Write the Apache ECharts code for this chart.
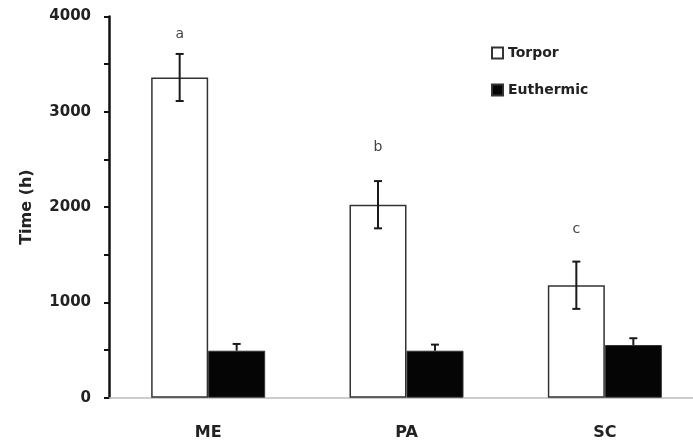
<!DOCTYPE html>
<html>
<head>
<meta charset="utf-8">
<script src="https://cdn.jsdelivr.net/npm/echarts@6/dist/echarts.min.js"></script>
<style>
  html, body { margin: 0; padding: 0; background: #fff; overflow: hidden; }
  /* 原图右侧被裁掉一截，画布略宽于窗口 */
  #chart { width: 704px; height: 442px; }
</style>
</head>
<body>
<div id="chart"></div>
<script>
// 数据
const sites = ['ME', 'PA', 'SC'];
const torporMean = [3360, 2025, 1180];
const torporErr = [247, 248, 248];
const euthermicMean = [493, 493, 553];
const euthermicErr = [71, 64, 71];
const sigLetters = ['a', 'b', 'c'];
const sigLetterY = [3815, 2630, 1770];

const FONT = 'DejaVu Sans';
const BAR_W = 57;

// 误差线（custom series）
function errorSeries(means, errs, offset, showLower) {
    return {
        type: 'custom',
        z: 10,
        silent: true,
        data: means.map((m, i) => [i, m, errs[i]]),
        renderItem: function (params, api) {
            const i = api.value(0);
            const m = api.value(1);
            const e = api.value(2);
            const top = api.coord([i, m + e]);
            const bot = api.coord([i, showLower ? m - e : m]);
            const x = top[0] + offset;
            const cap = 4;
            const style = { stroke: '#1a1a1a', lineWidth: 2 };
            const children = [
                { type: 'line', shape: { x1: x, y1: top[1], x2: x, y2: bot[1] }, style: style },
                { type: 'line', shape: { x1: x - cap, y1: top[1], x2: x + cap, y2: top[1] }, style: style }
            ];
            if (showLower) {
                children.push({ type: 'line', shape: { x1: x - cap, y1: bot[1], x2: x + cap, y2: bot[1] }, style: style });
            }
            return { type: 'group', children: children };
        }
    };
}

const chart = echarts.init(document.getElementById('chart'));
chart.setOption({
    animation: false,
    backgroundColor: '#fff',
    textStyle: { fontFamily: FONT },
    grid: { left: 109, top: 16.5, bottom: 44.3, right: 0, containLabel: false },
    legend: {
        orient: 'vertical',
        left: 486,
        top: 41,
        itemWidth: 11,
        itemHeight: 11,
        itemGap: 23,
        icon: 'rect',
        textStyle: { fontFamily: FONT, fontWeight: 'bold', fontSize: 14, color: '#222' },
        data: ['Torpor', 'Euthermic']
    },
    xAxis: {
        type: 'category',
        data: sites,
        axisLine: { lineStyle: { color: '#bdbdbd', width: 1.5 } },
        axisTick: { show: false },
        axisLabel: { fontFamily: FONT, fontWeight: 'bold', fontSize: 16, color: '#222', margin: 27 }
    },
    yAxis: {
        type: 'value',
        min: 0,
        max: 4000,
        interval: 1000,
        name: 'Time (h)',
        nameLocation: 'middle',
        nameGap: 74,
        nameRotate: 90,
        nameTextStyle: { fontFamily: FONT, fontWeight: 'bold', fontSize: 16, color: '#222' },
        axisLine: { show: true, lineStyle: { color: '#111', width: 2.5 } },
        axisTick: { show: true, length: 5, lineStyle: { color: '#111', width: 2 } },
        minorTick: { show: true, splitNumber: 2, length: 5, lineStyle: { color: '#111', width: 2 } },
        splitLine: { show: false },
        axisLabel: {
            fontFamily: FONT, fontWeight: 'bold', fontSize: 15, color: '#222', margin: 18,
            formatter: v => String(v)
        }
    },
    series: [
        {
            name: 'Torpor',
            type: 'bar',
            barWidth: BAR_W,
            barGap: '0%',
            data: torporMean,
            itemStyle: { color: '#fff', borderColor: '#333', borderWidth: 1.5 }
        },
        {
            name: 'Euthermic',
            type: 'bar',
            barWidth: BAR_W,
            barGap: '0%',
            data: euthermicMean,
            itemStyle: { color: '#050505', borderColor: '#333', borderWidth: 1 }
        },
        errorSeries(torporMean, torporErr, -BAR_W / 2, true),
        errorSeries(euthermicMean, euthermicErr, BAR_W / 2, false),
        {
            type: 'custom',
            z: 11,
            silent: true,
            data: sigLetters.map((l, i) => [i, sigLetterY[i]]),
            renderItem: function (params, api) {
                const p = api.coord([api.value(0), api.value(1)]);
                return {
                    type: 'text',
                    style: {
                        x: p[0] - BAR_W / 2,
                        y: p[1],
                        text: sigLetters[params.dataIndex],
                        fill: '#444',
                        font: '14px ' + FONT,
                        align: 'center',
                        verticalAlign: 'middle'
                    }
                };
            }
        }
    ]
});
</script>
</body>
</html>
